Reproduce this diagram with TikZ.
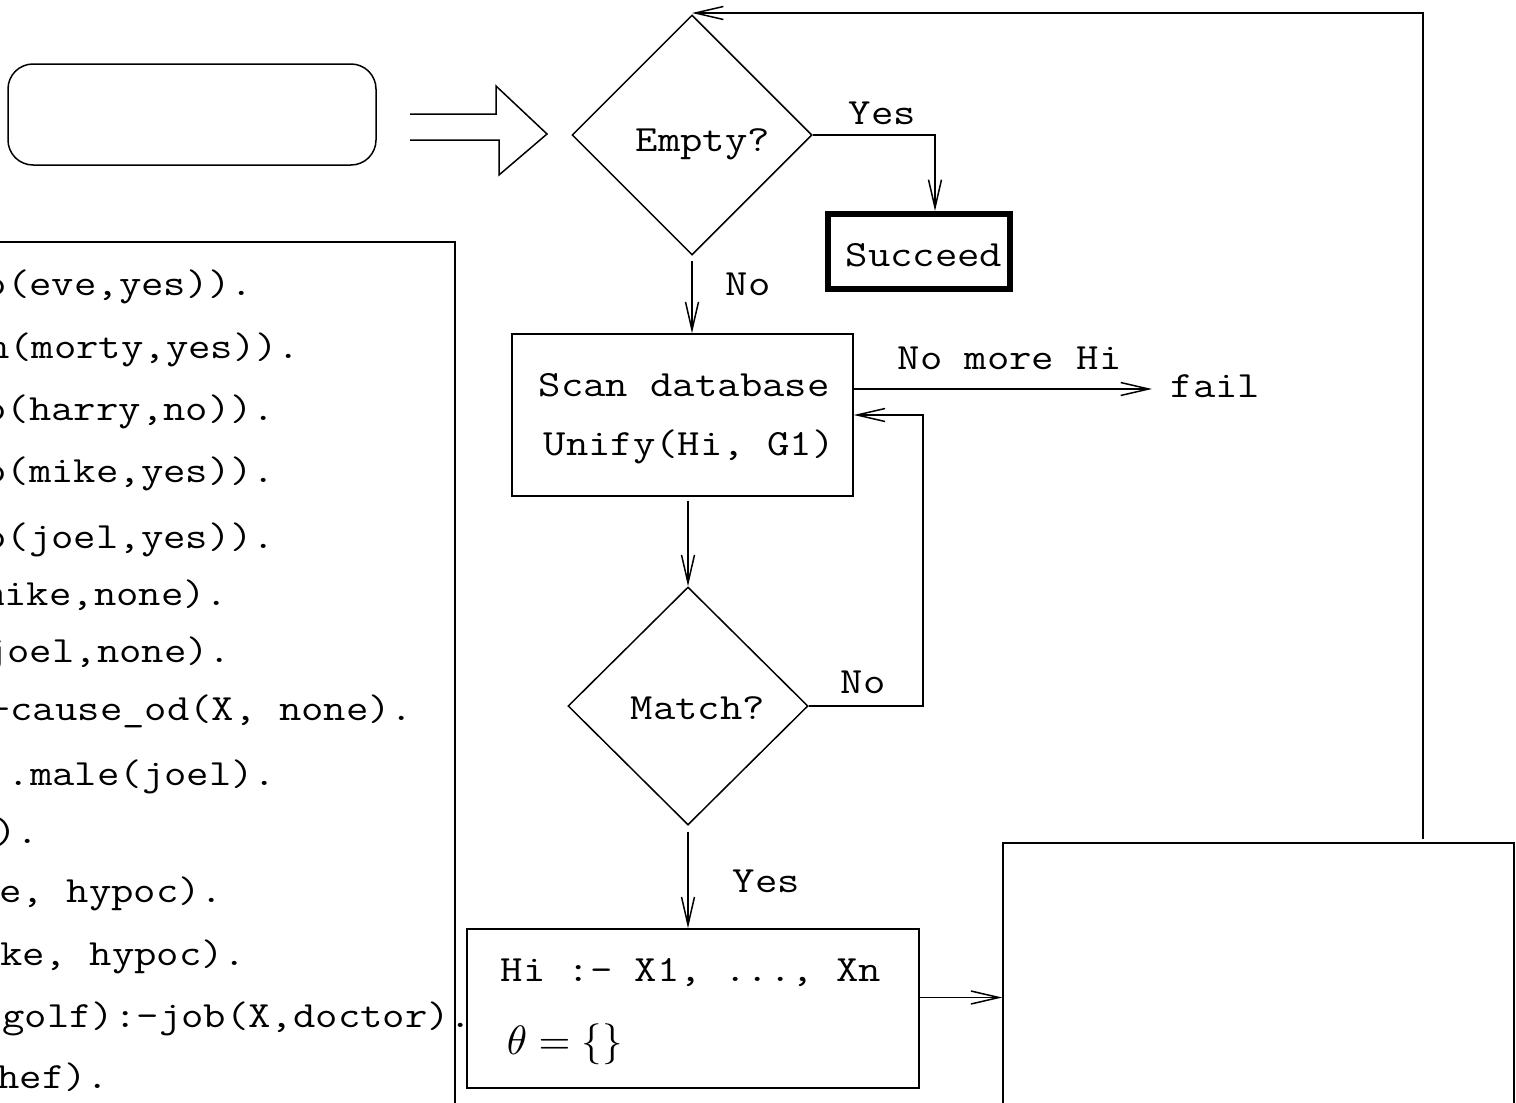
\documentclass[tikz,border=0pt]{standalone}
\usepackage{graphicx}
\usetikzlibrary{shapes.geometric,arrows.meta,calc}
% typewriter text, widened to a Courier-like pitch
\newcommand{\tx}[1]{{\fontsize{37}{40}\selectfont\ttfamily\frenchspacing\scalebox{1.174}[1]{#1}}}

\begin{document}
\begin{tikzpicture}[x=1pt,y=-1pt,line width=1.5pt,
  arr/.style={-{Straight Barb[length=28pt,width=13pt]}},
  box/.style={draw,rectangle,inner sep=0pt},
  decision/.style={draw,diamond,inner sep=0pt},
  txt/.style={inner sep=0pt,anchor=base west},
  code/.style={inner sep=0pt,anchor=base east}]
\useasboundingbox (0,0) rectangle (1516,1103);
\clip (0,0) rectangle (1516,1103);

% query box and the hollow arrow
\node[box,rounded corners=25pt,minimum width=368pt,minimum height=101pt] (query) at (192,114.5) {};
\draw[line join=miter] (410,114) -- (496,114) -- (496,86) -- (547,134) -- (499,175) -- (499,140) -- (410,140);

% database listing
\node[box,minimum width=560pt,minimum height=900pt] (db) at (175,692) {};
\node[code] (c1)  at (254,295)  {\tx{o(eve,yes)).}};
\node[code] (c2)  at (301,358)  {\tx{n(morty,yes)).}};
\node[code] (c3)  at (276,420)  {\tx{o(harry,no)).}};
\node[code] (c4)  at (276,482)  {\tx{o(mike,yes)).}};
\node[code] (c5)  at (276,548)  {\tx{o(joel,yes)).}};
\node[code] (c6)  at (229,605)  {\tx{mike,none).}};
\node[code] (c7)  at (232,662)  {\tx{joel,none).}};
\node[code] (c8)  at (414,720)  {\tx{-cause\_od(X, none).}};
\node[code] (c9)  at (277,785)  {\tx{.male(joel).}};
\node[code] (c10) at (40,843)   {\tx{).}};
\node[code] (c11) at (224,902)  {\tx{e, hypoc).}};
\node[code] (c12) at (247,965)  {\tx{ke, hypoc).}};
\node[code] (c13) at (473,1027) {\tx{golf):-job(X,doctor).}};
\node[code] (c14) at (110,1088) {\tx{hef).}};

% Empty? test
\node[decision,minimum width=240pt,minimum height=240pt] (empty) at (692,135) {};
\node[txt] (emptyt) at (635,151) {\tx{Empty?}};

% Succeed
\node[box,line width=6pt,minimum width=182pt,minimum height=75pt] (succeed) at (919,251.5) {};
\node[txt] (succt) at (845,266) {\tx{Succeed}};

% scan step
\node[box,minimum width=341pt,minimum height=162pt] (scan) at (682.5,415) {};
\node[txt] (scant1) at (538,396) {\tx{Scan database}};
\node[txt] (scant2) at (543,455) {\tx{Unify(Hi, G1)}};
\node[txt] (fail) at (1170,397) {\tx{fail}};

% Match? test
\node[decision,minimum width=240pt,minimum height=238pt] (match) at (688,706) {};
\node[txt] (matcht) at (630,719) {\tx{Match?}};

% clause body
\node[box,minimum width=452pt,minimum height=159pt] (hibox) at (693,1008.5) {};
\node[txt] (hit) at (500,981) {\tx{Hi :- X1, ..., Xn}};
\node[txt] (theta) at (506,1054) {\scalebox{4.1}{$\theta=\{\}$}};

% goal list box
\node[box,minimum width=511pt,minimum height=360pt] (engine) at (1258.5,1023) {};

% connectors
\draw[arr] (empty.east) -| ([xshift=16pt]succeed.north);
\draw[arr,shorten <=5pt] (empty.south) -- (empty.south |- scan.north);
\draw[arr,shorten >=18pt] ([yshift=26pt]scan.east) -- ([yshift=26pt]scan.east -| fail.west);
\coordinate (noturn) at (923,415);
\draw[arr] (match.east) -| (noturn) -- (scan.east);
\draw[arr,shorten <=4pt] (scan.south -| match.north) -- (match.north);
\draw[arr,shorten <=6pt] (match.south) -- (match.south |- hibox.north);
\draw[arr] ([yshift=11pt]hibox.east) -- ([yshift=11pt]hibox.east -| engine.west);
\coordinate (topturn) at (1423,13);
\draw[arr,shorten <=3pt] (topturn |- engine.north) -- (topturn) -- (topturn -| empty.north);

% branch labels
\node[txt] (lyes1) at (848,124) {\tx{Yes}};
\node[txt] (lno1) at (725,295) {\tx{No}};
\node[txt] (lnomore) at (897,369) {\tx{No more Hi}};
\node[txt] (lno2) at (840,693) {\tx{No}};
\node[txt] (lyes2) at (732,892) {\tx{Yes}};
\end{tikzpicture}
\end{document}
